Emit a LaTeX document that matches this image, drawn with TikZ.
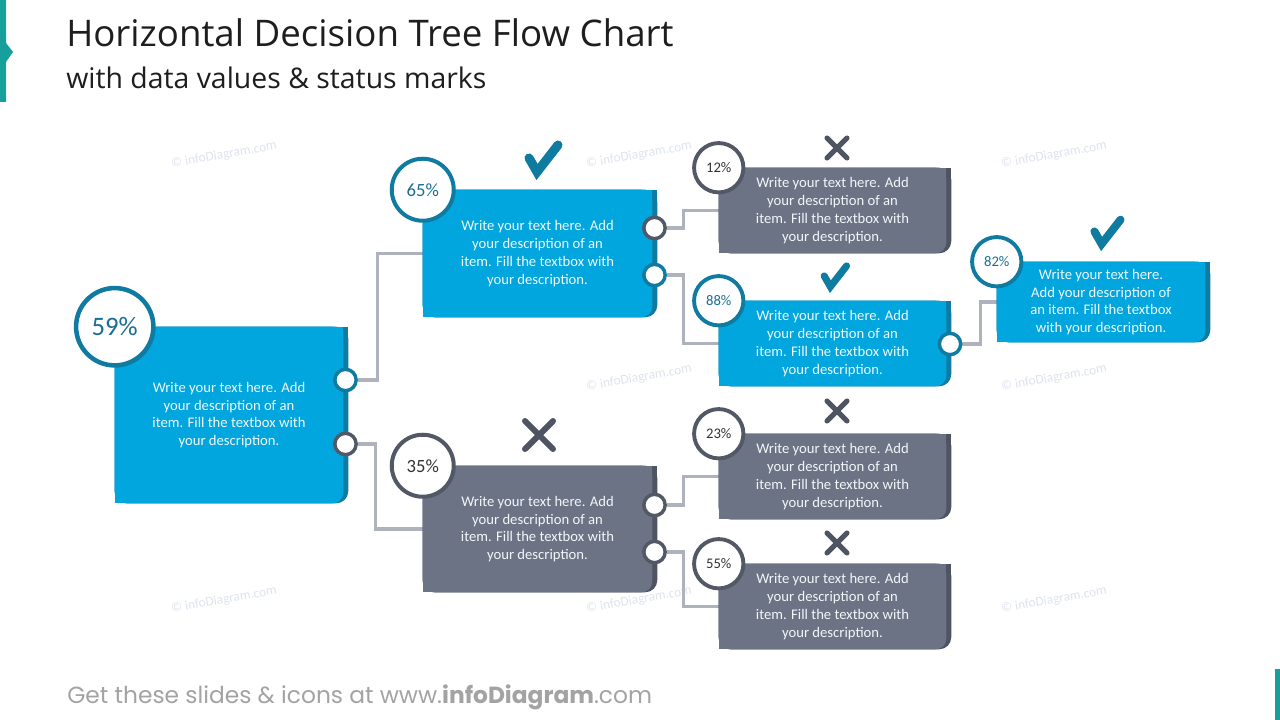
\documentclass[tikz,border=0pt]{standalone}
\usepackage{fontspec}
\setmainfont{Carlito}
\newfontfamily\titlefont{Open Sans}
\newfontfamily\footfont{Poppins}
\usetikzlibrary{calc,backgrounds}
\definecolor{cblue}{HTML}{00A6DD}
\definecolor{cbluedk}{HTML}{0F7BA1}
\definecolor{cbluetxt}{HTML}{1A6E94}
\definecolor{cgray}{HTML}{6B7385}
\definecolor{cgraydk}{HTML}{4E5462}
\definecolor{cring}{HTML}{525866}
\definecolor{clink}{HTML}{AEB2BD}
\definecolor{cteal}{HTML}{17A09B}
\definecolor{cwm}{HTML}{DDE4EE}
\definecolor{ctxt}{HTML}{F2F7FA}
\definecolor{ctitle}{HTML}{1E1E1E}
\definecolor{cfoot}{HTML}{A3A3A3}
\newcommand\cardfill[3]{%
  \fill[#3,rounded corners=9pt] (#1.north west) rectangle ($(#1.south east)+(5,0)$);
  \fill[#3] (#1.north west) rectangle ($(#1.south east)+(-10,0)$);
  \fill[#3] (#1.north west) rectangle ($(#1.south east)+(5,-14)$);
  \fill[#2,rounded corners=8pt] (#1.north west) rectangle (#1.south east);
  \fill[#2] (#1.north west) rectangle ($(#1.south east)+(-12,0)$);
  \fill[#2] (#1.north west) rectangle ($(#1.south east)+(0,-12)$);
}
\tikzset{
  card/.style={inner sep=0pt, align=center, text=ctxt, font=\fontsize{11}{13.3}\selectfont},
  pcbig/.style={circle, draw=cbluedk, fill=white, line width=3.4pt, minimum size=58pt, inner sep=0pt, text=cbluetxt, font=\fontsize{20}{22}\selectfont},
  pcmidb/.style={circle, draw=cbluedk, fill=white, line width=3pt, minimum size=46.5pt, inner sep=0pt, text=cbluetxt, font=\fontsize{14}{16}\selectfont},
  pcmidg/.style={circle, draw=cring, fill=white, line width=3pt, minimum size=46.5pt, inner sep=0pt, text=black!80, font=\fontsize{14}{16}\selectfont},
  pcsmb/.style={circle, draw=cbluedk, fill=white, line width=2.9pt, minimum size=37pt, inner sep=0pt, text=cbluetxt, font=\fontsize{11}{13}\selectfont},
  pcsmg/.style={circle, draw=cring, fill=white, line width=2.9pt, minimum size=37pt, inner sep=0pt, text=black!80, font=\fontsize{11}{13}\selectfont},
  portb/.style={circle, draw=cbluedk, fill=white, line width=2.6pt, minimum size=16pt, inner sep=0pt},
  portg/.style={circle, draw=cring, fill=white, line width=2.6pt, minimum size=16pt, inner sep=0pt},
  link/.style={draw=clink, line width=2.3pt},
  wm/.style={rotate=10, text=cwm, font=\fontsize{10}{12}\selectfont, inner sep=0pt},
  yesmark/.pic={\draw[cbluedk, line cap=round, line join=miter] (-14,-4) -- (-6,10) -- (15,-17);},
  nomark/.pic={\draw[cgraydk, line cap=round] (-10,-10) -- (10,10) (-10,10) -- (10,-10);}
}
\begin{document}
\begin{tikzpicture}[x=0.75pt,y=-0.75pt]
\useasboundingbox (0,0) rectangle (1280,720);

% title
\node[anchor=west, inner sep=0pt, text=ctitle, font=\titlefont\fontsize{27.5}{32}\selectfont] (title) at (66,33) {Horizontal Decision Tree Flow Chart};
\node[anchor=west, inner sep=0pt, text=ctitle, font=\titlefont\fontsize{21.3}{25}\selectfont] (subtitle) at (66,78) {with data values \& status marks};
\node[anchor=west, inner sep=0pt, text=cfoot, font=\footfont\fontsize{17.5}{21}\selectfont] (footer) at (67,697) {Get these slides \& icons at www.\textbf{infoDiagram}.com};

% cards
\node[card, minimum width=171pt, minimum height=132pt] (b59) at (229,415) {Write your text here. Add\\your description of an\\item. Fill the textbox with\\your description.};
\node[card, minimum width=171.75pt, minimum height=95.25pt] (b65) at (537.5,253.5) {Write your text here. Add\\your description of an\\item. Fill the textbox with\\your description.};
\node[card, minimum width=171.75pt, minimum height=94.5pt] (b35) at (537.5,529) {Write your text here. Add\\your description of an\\item. Fill the textbox with\\your description.};
\node[card, minimum width=170.25pt, minimum height=63.75pt] (b12) at (832.5,210.5) {Write your text here. Add\\your description of an\\item. Fill the textbox with\\your description.};
\node[card, minimum width=170.25pt, minimum height=63.75pt] (b88) at (832.5,343.5) {Write your text here. Add\\your description of an\\item. Fill the textbox with\\your description.};
\node[card, minimum width=170.25pt, minimum height=63.75pt] (b23) at (832.5,476.5) {Write your text here. Add\\your description of an\\item. Fill the textbox with\\your description.};
\node[card, minimum width=170.25pt, minimum height=63.75pt] (b55) at (832.5,606.5) {Write your text here. Add\\your description of an\\item. Fill the textbox with\\your description.};
\node[card, minimum width=156pt, minimum height=60pt] (b82) at (1101,302) {Write your text here.\\Add your description of\\an item. Fill the textbox\\with your description.};

% ports
\node[portb] (r1) at (345.5,380) {};
\node[portg] (r2) at (345.5,444) {};
\node[portg] (q1) at (654.5,228) {};
\node[portb] (q2) at (654.5,275) {};
\node[portg] (s1) at (654.5,505) {};
\node[portg] (s2) at (654.5,552) {};
\node[portb] (t1) at (950,344) {};

% percentage circles
\node[pcbig] (p59) at (b59.north west) {59\%};
\node[pcmidb] (p65) at (b65.north west) {65\%};
\node[pcmidg] (p35) at (b35.north west) {35\%};
\node[pcsmg] (p12) at (b12.north west) {12\%};
\node[pcsmb] (p88) at (b88.north west) {88\%};
\node[pcsmg] (p23) at (b23.north west) {23\%};
\node[pcsmg] (p55) at (b55.north west) {55\%};
\node[pcsmb] (p82) at (b82.north west) {82\%};

% status marks
\pic[line width=6.8pt] at (543,162) {yesmark};
\pic[line width=5.3pt, scale=0.77] at (835,279) {yesmark};
\pic[line width=6pt, scale=0.9] at (1107,235) {yesmark};
\pic[line width=3.8pt] at (837,148) {nomark};
\pic[line width=4.5pt, scale=1.4] at (539,435) {nomark};
\pic[line width=3.8pt] at (837,411) {nomark};
\pic[line width=3.8pt] at (837,543) {nomark};

\begin{scope}[on background layer]
  \fill[white] (0,0) rectangle (1280,720);
  \fill[cteal] (0,0) -- (6,0) -- (6,43) -- (13,52) -- (6,62) -- (6,102) -- (0,102) -- cycle;
  \fill[cteal] (1275,669) rectangle (1280,720);
  \node[wm] (wm1) at (224,155) {© infoDiagram.com};
  \node[wm] (wm2) at (639,155) {© infoDiagram.com};
  \node[wm] (wm3) at (1054,155) {© infoDiagram.com};
  \node[wm] (wm4) at (639,378) {© infoDiagram.com};
  \node[wm] (wm5) at (1054,378) {© infoDiagram.com};
  \node[wm] (wm6) at (224,600) {© infoDiagram.com};
  \node[wm] (wm7) at (639,600) {© infoDiagram.com};
  \node[wm] (wm8) at (1054,600) {© infoDiagram.com};
  \draw[link] (r1.east) -- ++(20,0) |- (b65.west);
  \draw[link] (r2.east) -- ++(18,0) |- (b35.west);
  \draw[link] (q1.east) -- ++(17,0) |- (b12.west);
  \draw[link] (q2.east) -- ++(17,0) |- (b88.west);
  \draw[link] (s1.east) -- ++(17,0) |- (b23.west);
  \draw[link] (s2.east) -- ++(17,0) |- (b55.west);
  \draw[link] (t1.east) -- ++(18,0) |- (b82.west);
  \cardfill{b59}{cblue}{cbluedk}
  \cardfill{b65}{cblue}{cbluedk}
  \cardfill{b88}{cblue}{cbluedk}
  \cardfill{b82}{cblue}{cbluedk}
  \cardfill{b35}{cgray}{cgraydk}
  \cardfill{b12}{cgray}{cgraydk}
  \cardfill{b23}{cgray}{cgraydk}
  \cardfill{b55}{cgray}{cgraydk}
\end{scope}
\end{tikzpicture}
\end{document}
